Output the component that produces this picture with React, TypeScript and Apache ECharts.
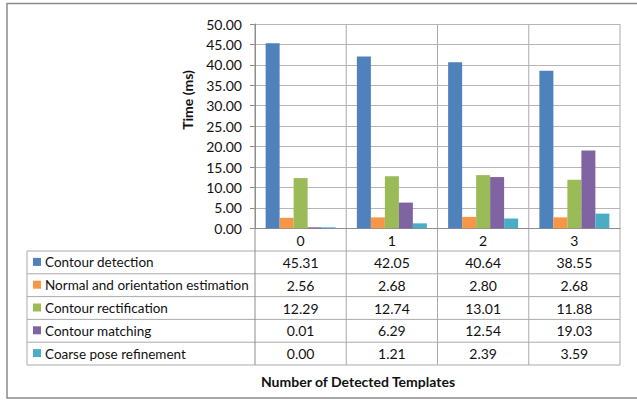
import React, { useEffect, useRef } from "react";
import * as echarts from "echarts";

// Number of detected templates (categories)
const categories = ["0", "1", "2", "3"];

// Processing stage names
const stageNames = [
  "Contour detection",
  "Normal and orientation estimation",
  "Contour rectification",
  "Contour matching",
  "Coarse pose refinement",
];

// Time per stage (ms), one array per stage, indexed by category
const contourDetection = [45.31, 42.05, 40.64, 38.55];
const normalOrientation = [2.56, 2.68, 2.8, 2.68];
const contourRectification = [12.29, 12.74, 13.01, 11.88];
const contourMatching = [0.01, 6.29, 12.54, 19.03];
const coarsePose = [0.0, 1.21, 2.39, 3.59];

const stageValues = [
  contourDetection,
  normalOrientation,
  contourRectification,
  contourMatching,
  coarsePose,
];

const stageColors = ["#4F81BD", "#F79646", "#9BBB59", "#8064A2", "#4BACC6"];

// Y axis ticks
const yMin = 0;
const yMax = 50;
const yStep = 5;

const FONT = "Lato, 'Noto Sans', sans-serif";
const FS = 14;
const FS_ROW = 13.5;
const TEXT = "#111111";
const LINE = "#ABABAB";

// Layout (px)
const W = 637;
const H = 400;
const PLOT_LEFT = 255;
const PLOT_RIGHT = 620;
const PLOT_TOP = 24;
const PLOT_BOTTOM = 228.3;
const TABLE_LEFT = 27;
const TABLE_TOP = 251;
const ROW_H = 22.8;

export default function App() {
  const ref = useRef<HTMLDivElement>(null);

  useEffect(() => {
    if (!ref.current) return;
    const chart = echarts.init(ref.current, undefined, { renderer: "svg" });

    const catW = (PLOT_RIGHT - PLOT_LEFT) / categories.length;
    const tableBottom = TABLE_TOP + ROW_H * stageNames.length;
    const graphics: any[] = [];

    // outer chart frame
    graphics.push({
      type: "rect",
      silent: true,
      shape: { x: 7, y: 3.5, width: 700, height: 394.5 },
      style: { fill: "none", stroke: "#8A8A8A", lineWidth: 1.5 },
    });

    // data table horizontal rules
    for (let i = 0; i <= stageNames.length; i++) {
      const y = TABLE_TOP + i * ROW_H;
      graphics.push({
        type: "line",
        silent: true,
        shape: { x1: TABLE_LEFT, y1: y, x2: PLOT_RIGHT, y2: y },
        style: { stroke: LINE, lineWidth: 1 },
      });
    }
    // data table vertical rules
    graphics.push({
      type: "line",
      silent: true,
      shape: { x1: TABLE_LEFT, y1: TABLE_TOP, x2: TABLE_LEFT, y2: tableBottom },
      style: { stroke: LINE, lineWidth: 1 },
    });
    for (let c = 0; c <= categories.length; c++) {
      const x = PLOT_LEFT + c * catW;
      graphics.push({
        type: "line",
        silent: true,
        shape: { x1: x, y1: PLOT_TOP, x2: x, y2: tableBottom },
        style: { stroke: c === 0 ? "#8E8E8E" : LINE, lineWidth: 1 },
      });
    }

    // legend keys, row labels and values
    stageNames.forEach((name, i) => {
      const cy = TABLE_TOP + i * ROW_H + ROW_H / 2;
      graphics.push({
        type: "rect",
        silent: true,
        shape: { x: 33, y: cy - 4.5, width: 8, height: 8 },
        style: { fill: stageColors[i] },
      });
      graphics.push({
        type: "text",
        silent: true,
        x: 45,
        y: cy,
        style: {
          text: name,
          fill: TEXT,
          font: `${FS_ROW}px ${FONT}`,
          align: "left",
          verticalAlign: "middle",
        },
      });
      stageValues[i].forEach((v, c) => {
        graphics.push({
          type: "text",
          silent: true,
          x: PLOT_LEFT + catW * (c + 0.5),
          y: cy,
          style: {
            text: v.toFixed(2),
            fill: TEXT,
            font: `${FS}px ${FONT}`,
            align: "center",
            verticalAlign: "middle",
          },
        });
      });
    });

    // axis titles
    graphics.push({
      type: "text",
      silent: true,
      x: 187,
      y: 100,
      rotation: Math.PI / 2,
      style: {
        text: "Time (ms)",
        fill: TEXT,
        font: `bold ${FS}px ${FONT}`,
        align: "center",
        verticalAlign: "middle",
      },
    });
    graphics.push({
      type: "text",
      silent: true,
      x: 358,
      y: 381,
      style: {
        text: "Number of Detected Templates",
        fill: TEXT,
        font: `bold ${FS}px ${FONT}`,
        align: "center",
        verticalAlign: "middle",
      },
    });

    chart.setOption({
      animation: false,
      backgroundColor: "#ffffff",
      textStyle: { fontFamily: FONT },
      grid: {
        left: PLOT_LEFT,
        right: W - PLOT_RIGHT,
        top: PLOT_TOP,
        bottom: H - PLOT_BOTTOM,
        containLabel: false,
      },
      xAxis: {
        type: "category",
        data: categories,
        axisLine: { show: true, lineStyle: { color: "#8E8E8E", width: 1 } },
        axisTick: { show: false },
        axisLabel: {
          color: TEXT,
          fontSize: FS,
          fontFamily: FONT,
          margin: 5,
        },
        splitLine: { show: false },
      },
      yAxis: {
        type: "value",
        min: yMin,
        max: yMax,
        interval: yStep,
        axisLine: { show: true, lineStyle: { color: "#8E8E8E", width: 1 } },
        axisTick: { show: true, length: 5, lineStyle: { color: "#8E8E8E" } },
        axisLabel: {
          color: TEXT,
          fontSize: FS,
          fontFamily: FONT,
          margin: 13,
          formatter: (v: number) => v.toFixed(2),
        },
        splitLine: { show: true, lineStyle: { color: "#B5B5B5", width: 1 } },
      },
      series: stageNames.map((name, i) => ({
        type: "bar",
        name,
        data: stageValues[i],
        barWidth: 14,
        barGap: "0%",
        barMinHeight: 1,
        itemStyle: { color: stageColors[i] },
      })),
      graphic: graphics,
    });

    return () => chart.dispose();
  }, []);

  return (
    <div
      ref={ref}
      style={{ position: "fixed", left: 0, top: 0, width: W, height: H }}
    />
  );
}
